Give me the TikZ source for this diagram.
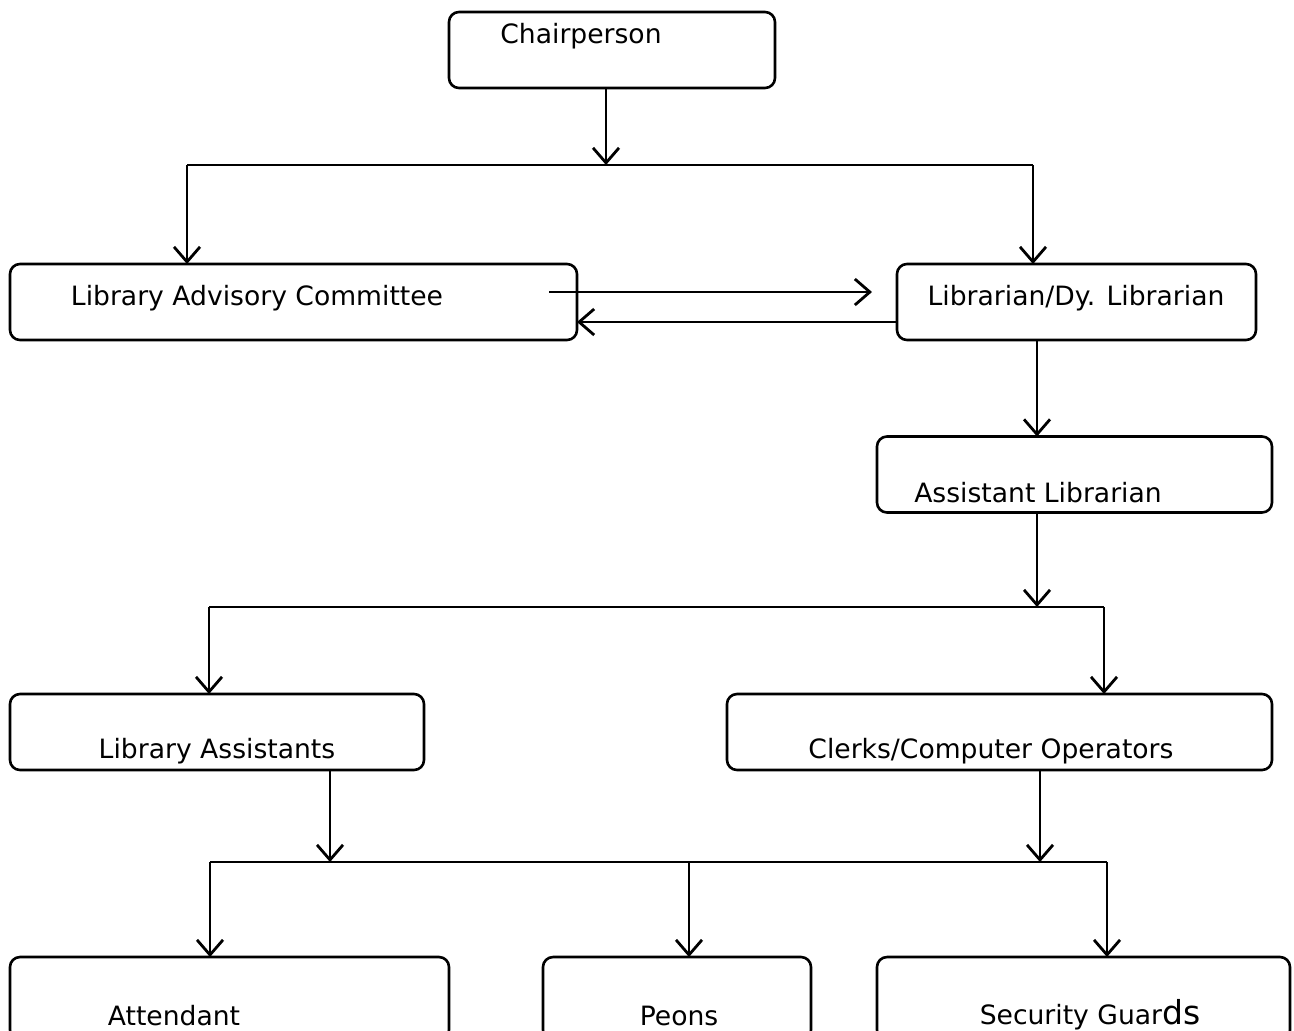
\documentclass[tikz,border=0pt]{standalone}
\usepackage{fontspec}
\setmainfont{DejaVu Sans}
\usetikzlibrary{arrows.meta}
\begin{document}
\begin{tikzpicture}[x=0.5pt,y=-0.5pt,
  box/.style={draw,line width=1.3pt,rounded corners=5pt,inner sep=0pt,outer sep=0pt,minimum height=38pt},
  lbl/.style={inner sep=0pt,font=\fontsize{13.3}{16}\selectfont},
  ln/.style={line width=1.4pt},
  arr/.style={line width=1.4pt,-{Straight Barb[length=7.5pt,width=13pt,line width=1.4pt]}}]
\useasboundingbox (0,0) rectangle (1294,1030);
\clip (0,0) rectangle (1294,1030);
% boxes
\node[box,minimum width=163pt] (chair) at (612,50) {};
\node[box,minimum width=283.5pt] (lac) at (293.5,302) {};
\node[box,minimum width=179.5pt] (lib) at (1076.5,302) {};
\node[box,minimum width=197.5pt] (asst) at (1074.5,474.5) {};
\node[box,minimum width=207pt] (libas) at (217,732) {};
\node[box,minimum width=272.5pt] (clerk) at (999.5,732) {};
\node[box,minimum width=219.5pt,minimum height=41.5pt] (att) at (229.5,998.5) {};
\node[box,minimum width=134pt,minimum height=41.5pt] (peon) at (677,998.5) {};
\node[box,minimum width=206.5pt,minimum height=41.5pt] (sec) at (1083.5,998.5) {};
% labels
\node[lbl] (tchair) at (581,36) {Chairperson};
\node[lbl] (tlac) at (257,298) {Library Advisory Committee};
\node[lbl] (tlib) at (1076,298) {Librarian/Dy. Librarian};
\node[lbl] (tasst) at (1038,493) {Assistant Librarian};
\node[lbl] (tlibas) at (217,751) {Library Assistants};
\node[lbl] (tclerk) at (991,751) {Clerks/Computer Operators};
\node[lbl] (tatt) at (174,1016) {Attendant};
\node[lbl] (tpeon) at (679,1016) {Peons};
\node[lbl] (tsec) at (1090,1015) {Security Guar{\fontsize{16.5}{18}\selectfont ds}};
% junction coordinates
\coordinate (j1) at (606,165);
\coordinate (j1l) at (187,165);
\coordinate (j1r) at (1033,165);
\coordinate (a1) at (549,292);
\coordinate (a2) at (872,292);
\coordinate (r1) at (0,322);
\coordinate (c1) at (1037,0);
\coordinate (j2) at (1037,607);
\coordinate (j2l) at (209,607);
\coordinate (j2r) at (1104,607);
\coordinate (j3a) at (330,862);
\coordinate (j3b) at (1040,862);
\coordinate (j3l) at (210,862);
\coordinate (j3m) at (689,862);
\coordinate (j3r) at (1107,862);
% connectors
\draw[arr] (chair.south -| j1) -- (j1);
\draw[ln] (j1l) -- (j1r);
\draw[arr] (j1l) -- (j1l |- lac.north);
\draw[arr] (j1r) -- (j1r |- lib.north);
\draw[arr] (a1) -- (a2);
\draw[arr] (lib.west |- r1) -- (lac.east |- r1);
\draw[arr] (lib.south -| c1) -- (asst.north -| c1);
\draw[arr] (asst.south -| j2) -- (j2);
\draw[ln] (j2l) -- (j2r);
\draw[arr] (j2l) -- (j2l |- libas.north);
\draw[arr] (j2r) -- (j2r |- clerk.north);
\draw[arr] (libas.south -| j3a) -- (j3a);
\draw[arr] (clerk.south -| j3b) -- (j3b);
\draw[ln] (j3l) -- (j3r);
\draw[arr] (j3l) -- (j3l |- att.north);
\draw[arr] (j3m) -- (j3m |- peon.north);
\draw[arr] (j3r) -- (j3r |- sec.north);
\end{tikzpicture}
\end{document}
